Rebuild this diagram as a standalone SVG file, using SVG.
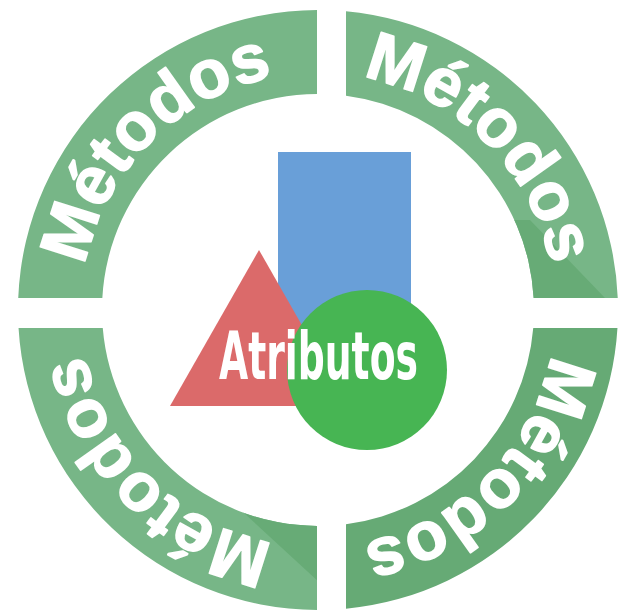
<svg xmlns="http://www.w3.org/2000/svg" width="618" height="613" viewBox="0 0 618 613">
<style>
.m{font-family:"Liberation Sans",Arial,sans-serif;font-weight:bold;font-size:68px;letter-spacing:0.5px;fill:#ffffff;stroke:#ffffff;stroke-width:1.6px;stroke-linejoin:round}
.lite{fill:#77b687}
.dark{fill:#67ab76}
.at{font-family:"DejaVu Sans","Roboto",sans-serif;font-weight:bold;font-stretch:condensed;font-size:66px;fill:#ffffff}
</style>
<defs>
<path id="arc" d="M 136.45 462.34 A 237 237 0 0 1 470.34 128.45" fill="none"/>
<path id="pTR" d="M 346 11.31 A 300 300 0 0 1 617.76 298 L 533.67 298 A 216 216 0 0 0 346 95.82 Z"/>
<path id="pBL" d="M 317 610 A 300 300 0 0 1 18.54 328 L 102.75 328 A 216 216 0 0 0 317 526 Z"/>
<clipPath id="cTR"><use href="#pTR"/></clipPath>
<clipPath id="cBL"><use href="#pBL"/></clipPath>
</defs>
<rect width="618" height="613" fill="#ffffff"/>

<g id="quadrant-top-left">
<path class="lite" d="M 18.24 298 A 300 300 0 0 1 317 10 L 317 94 A 216 216 0 0 0 102.33 298 Z"/>
<text class="m"><textPath href="#arc" startOffset="50%" text-anchor="middle">Métodos</textPath></text>
</g>

<g id="quadrant-top-right">
<use href="#pTR" class="lite"/>
<polygon class="dark" clip-path="url(#cTR)" points="500,220 530,220 605,298 500,298"/>
<text class="m" transform="rotate(90 318 310)"><textPath href="#arc" startOffset="50%" text-anchor="middle">Métodos</textPath></text>
</g>

<g id="quadrant-bottom-right">
<path fill="#66aa75" d="M 617.46 328 A 300 300 0 0 1 346 608.69 L 346 524.18 A 216 216 0 0 0 533.25 328 Z"/>
<text class="m" transform="rotate(180 318 310)"><textPath href="#arc" startOffset="50%" text-anchor="middle">Métodos</textPath></text>
</g>

<g id="quadrant-bottom-left">
<use href="#pBL" class="lite"/>
<polygon class="dark" clip-path="url(#cBL)" points="230,500 320,500 320,583"/>
<text class="m" transform="rotate(270 318 310)"><textPath href="#arc" startOffset="50%" text-anchor="middle">Métodos</textPath></text>
</g>

<g id="atributos">
<rect x="278" y="152" width="133" height="190" fill="#699fd8"/>
<polygon points="259,250 348,406 170,406" fill="#db6a6a"/>
<circle cx="367" cy="370" r="80" fill="#47b553"/>
<text class="at" x="219" y="379" textLength="199" lengthAdjust="spacingAndGlyphs">Atributos</text>
</g>
</svg>
